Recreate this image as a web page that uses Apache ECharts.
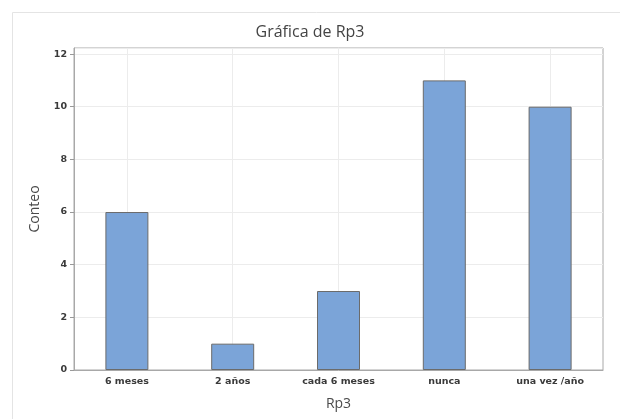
<!DOCTYPE html>
<html>
<head>
<meta charset="utf-8">
<script src="https://cdn.jsdelivr.net/npm/echarts@6/dist/echarts.min.js"></script>
<style>html,body{margin:0;padding:0;background:#fff}#c{width:620px;height:419px}</style>
</head>
<body>
<div id="c"></div>
<script>
const categories = ['6 meses', '2 años', 'cada 6 meses', 'nunca', 'una vez /año'];
const counts = [6, 1, 3, 11, 10];
const yTicks = [0, 2, 4, 6, 8, 10, 12];

const chart = echarts.init(document.getElementById('c'), null, {renderer: 'canvas'});
const font = '"Open Sans", "Noto Sans", sans-serif';
const tickFont = '"DejaVu Sans", sans-serif';
chart.setOption({
  backgroundColor: '#fff',
  animation: false,
  textStyle: {fontFamily: font},
  title: {
    text: 'Gráfica de Rp3',
    left: 'center',
    top: 19,
    textStyle: {fontFamily: font, fontSize: 16, fontWeight: 'normal', color: '#444'}
  },
  graphic: [{
    type: 'rect', left: 10, top: 10, silent: true,
    shape: {width: 720, height: 520},
    style: {fill: 'none', stroke: '#e4e4e4', lineWidth: 1}
  }],
  grid: {
    left: 74, right: 17, top: 48, bottom: 49,
    show: true, borderColor: '#a8a8a8', borderWidth: 1, backgroundColor: '#fff'
  },
  xAxis: {
    type: 'category',
    data: categories,
    name: 'Rp3',
    nameLocation: 'middle',
    nameGap: 27,
    nameTextStyle: {fontFamily: font, fontSize: 14, color: '#4a4a4a'},
    axisLine: {lineStyle: {color: '#a8a8a8'}},
    axisTick: {alignWithLabel: true, length: 4, lineStyle: {color: '#999'}},
    axisLabel: {fontFamily: tickFont, fontSize: 9.5, fontWeight: 'bold', color: '#3a3a3a', margin: 7},
    splitLine: {show: true, alignWithLabel: true, lineStyle: {color: '#ececec'}}
  },
  yAxis: {
    type: 'value',
    min: 0, max: 12.23, interval: 2,
    name: 'Conteo',
    nameLocation: 'middle',
    nameGap: 32,
    nameTextStyle: {fontFamily: font, fontSize: 14, color: '#4a4a4a'},
    axisLine: {show: true, lineStyle: {color: '#a8a8a8'}},
    axisTick: {show: true, length: 4, lineStyle: {color: '#999'}},
    axisLabel: {
      fontFamily: tickFont, fontSize: 9.5, fontWeight: 'bold', color: '#3a3a3a', margin: 7,
      showMaxLabel: false,
      formatter: v => (yTicks.indexOf(v) >= 0 ? String(v) : '')
    },
    splitLine: {show: true, lineStyle: {color: '#ececec'}}
  },
  series: [{
    type: 'bar',
    data: counts,
    barWidth: 43,
    itemStyle: {color: '#7ba4d8', borderColor: '#6b6b6b', borderWidth: 1}
  }]
});
</script>
</body>
</html>
